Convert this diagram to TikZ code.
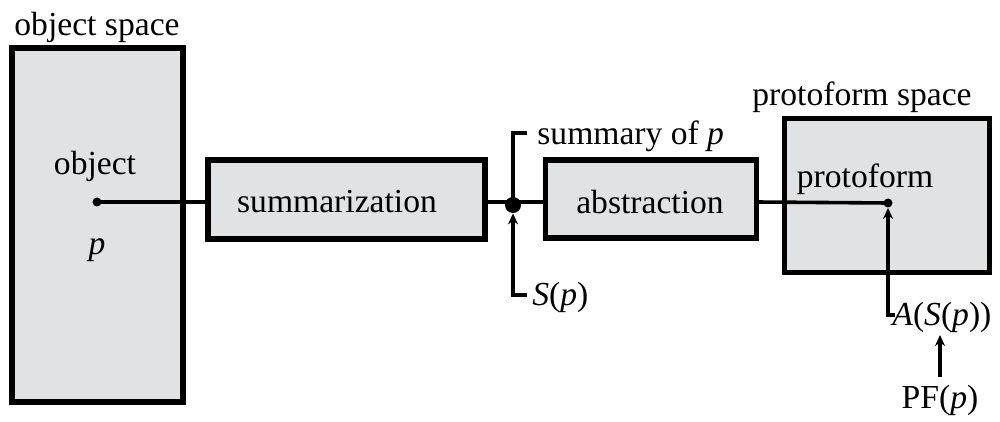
\documentclass[tikz,border=0pt]{standalone}
\usepackage{fontspec}
\setmainfont{Liberation Serif}
\usetikzlibrary{arrows.meta}
\definecolor{boxgray}{HTML}{E1E2E4}
\begin{document}
\begin{tikzpicture}[x=0.5pt,y=-0.5pt,
  box/.style={draw=black,fill=boxgray,line width=2.8pt,rectangle,inner sep=0pt,outer sep=0pt},
  lbl/.style={inner sep=0pt,font=\fontsize{16.8}{20}\selectfont},
  conn/.style={line width=1.8pt},
  arr/.style={line width=1.8pt,-{Stealth[length=5.5pt,width=5pt]}},
  dot/.style={circle,fill=black,inner sep=0pt,minimum size=#1}]
\useasboundingbox (0,0) rectangle (1000,422);
% boxes (sizes in pt = px/2)
\node[box,minimum width=85.5pt,minimum height=177pt] (obj) at (97.5,225) {};
\node[box,minimum width=138.5pt,minimum height=39.5pt] (sum) at (346.5,199.5) {};
\node[box,minimum width=105.5pt,minimum height=39pt] (abs) at (651,199) {};
\node[box,minimum width=102.5pt,minimum height=77pt] (pfs) at (887,195.5) {};
% texts
\node[lbl] (objspace) at (97,27) {object space};
\node[lbl] (objtxt) at (95,166) {object};
\node[lbl] (ptxt) at (97,250) {\itshape p};
\node[lbl] (sumtxt) at (337,202) {summarization};
\node[lbl] (abstxt) at (650,202) {abstraction};
\node[lbl] (pfspace) at (862,97) {protoform space};
\node[lbl] (pftxt) at (865,179) {protoform};
\node[lbl,anchor=west] (summ) at (537,136) {summary of \textit{p}};
\node[lbl,anchor=west] (sp) at (532,297) {\textit{S}(\textit{p})};
\node[lbl,anchor=west] (asp) at (892,317) {\textit{A}(\textit{S}(\textit{p}))};
\node[lbl] (pf) at (940,400) {PF(\textit{p})};
% dots
\node[dot=4.5pt] (od) at (97,202) {};
\node[dot=8pt] (jd) at (513,205) {};
\node[dot=4.5pt] (pd) at (888,203) {};
% coordinates
\coordinate (st) at (527,133);
\coordinate (sb) at (527,295);
\coordinate (ac) at (895,315);
\coordinate (pfa) at (940,377);
\coordinate (asb) at (940,335);
% connectors
\draw[conn] (od.center) -- (sum.west |- od.center);
\draw[conn] (sum.east |- 0,202) -- (abs.west |- 0,202);
\draw[conn] (abs.east |- 0,202) -- (pd.center);
\draw[conn] (st) -- (513,133) -- (jd.center);
\draw[arr] (sb) -- (513,295) -- (jd.south);
\draw[arr] (ac) -- (888,315) -- (pd.south);
\draw[arr,line width=2.1pt] (pfa) -- (asb);
\end{tikzpicture}
\end{document}
